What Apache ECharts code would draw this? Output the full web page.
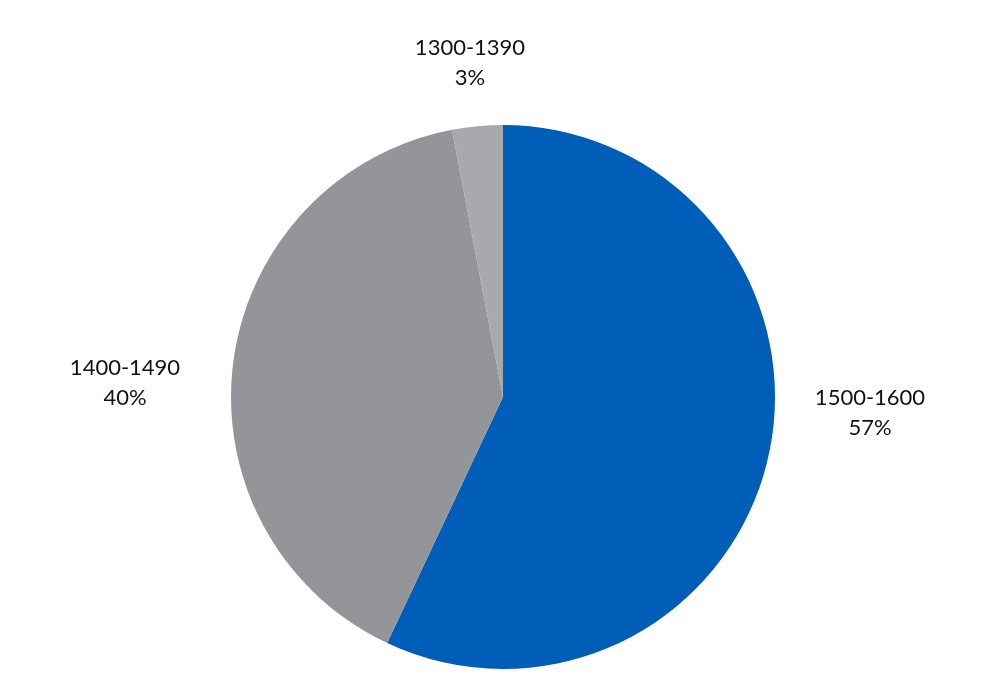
<!DOCTYPE html>
<html>
<head>
<meta charset="utf-8">
<script src="https://cdn.jsdelivr.net/npm/echarts@6/dist/echarts.min.js"></script>
<style>
    html, body { margin: 0; padding: 0; background: #fff; }
    #chart { width: 1000px; height: 699px; }
</style>
</head>
<body>
<div id="chart"></div>
<script>
// 分类和数值
const categories = ['1500-1600', '1400-1490', '1300-1390'];
const values = [57, 40, 3];
const colors = ['#005EB8', '#939598', '#A7A9AC'];

// 标签位置（像素）
const labelPos = [[870, 413], [125, 383], [470, 63]];

let chart = echarts.init(document.getElementById('chart'));

let option = {
    animation: false,
    series: [{
        type: 'pie',
        radius: 272,
        center: [503, 397],
        startAngle: 90,
        clockwise: true,
        data: categories.map((name, i) => ({
            name: name,
            value: values[i],
            itemStyle: { color: colors[i] }
        })),
        label: {
            show: true,
            position: 'outside',
            formatter: '{b}\n{c}%',
            fontFamily: 'Lato',
            fontSize: 22,
            lineHeight: 30,
            color: '#111',
            align: 'center'
        },
        labelLine: { show: false },
        labelLayout(params) {
            let p = labelPos[params.dataIndex];
            return {
                x: p[0],
                y: p[1],
                align: 'center',
                verticalAlign: 'middle'
            };
        },
        emphasis: { disabled: true }
    }]
};

chart.setOption(option);
</script>
</body>
</html>
